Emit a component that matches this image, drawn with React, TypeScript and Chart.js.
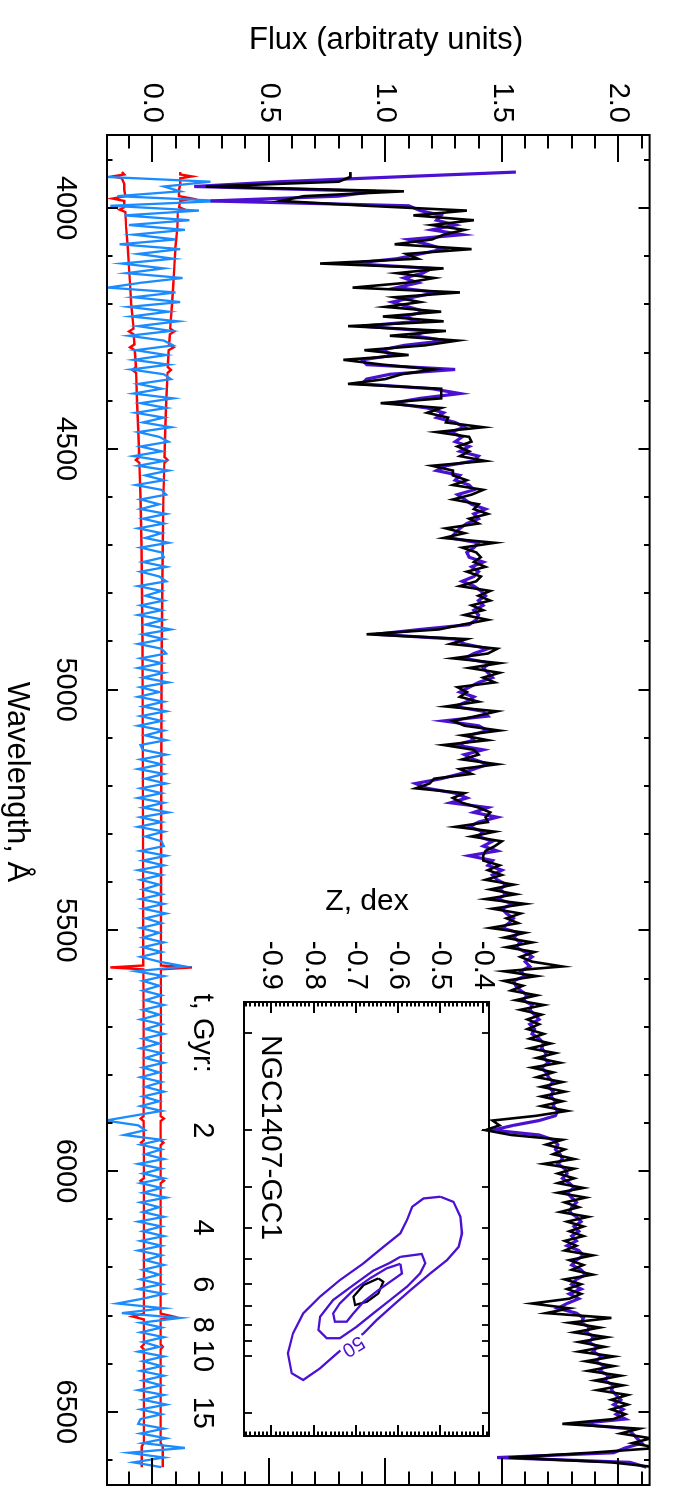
import React, { useEffect, useRef } from 'react';
import { Chart, registerables } from 'chart.js';

Chart.register(...registerables);

const FONT = '"Liberation Sans", Arial, Helvetica, sans-serif';
const PURPLE = '#4b10d2';
const BLUE = '#1a8cff';
const RED = '#ff0000';

// landscape drawing surface (rotated 90deg clockwise on the page)
const W = 1495;
const H = 679;

// ---- spectrum sampling grid (Angstrom) ----
const WAVE_START = 3925;
const WAVE_STEP = 10;

// model spectrum (purple)
const MODEL_FLUX = [
  1.56, 1.05, 0.55, 0.18, 0.96, 0.80, 0.25, 1.10, 1.15, 1.24, // 3925
  1.22, 1.30, 1.20, 1.33, 1.10, 1.18, 1.25, 1.15, 1.05, 0.85, // 4025
  1.20, 1.16, 1.08, 1.14, 1.05, 1.22, 1.12, 1.03, 1.10, 1.17, // 4125
  1.08, 1.14, 0.90, 1.18, 1.12, 1.26, 1.08, 0.98, 1.04, 0.90, // 4225
  0.92, 1.30, 1.02, 0.92, 0.90, 1.20, 1.32, 1.15, 1.03, 1.18, // 4325
  1.25, 1.22, 1.30, 1.34, 1.28, 1.33, 1.30, 1.36, 1.32, 1.40, // 4425
  1.38, 1.26, 1.22, 1.32, 1.30, 1.36, 1.38, 1.31, 1.34, 1.37, // 4525
  1.43, 1.38, 1.40, 1.35, 1.32, 1.30, 1.28, 1.40, 1.38, 1.35, // 4625
  1.36, 1.42, 1.37, 1.40, 1.38, 1.33, 1.38, 1.41, 1.43, 1.40, // 4725
  1.42, 1.38, 1.40, 1.39, 1.36, 1.15, 0.96, 1.30, 1.34, 1.44, // 4825
  1.38, 1.34, 1.45, 1.42, 1.44, 1.46, 1.40, 1.36, 1.32, 1.38, // 4925
  1.35, 1.30, 1.42, 1.44, 1.25, 1.40, 1.44, 1.36, 1.38, 1.30, // 5025
  1.42, 1.34, 1.38, 1.44, 1.38, 1.32, 1.24, 1.13, 1.18, 1.30, // 5125
  1.35, 1.28, 1.44, 1.38, 1.48, 1.40, 1.36, 1.42, 1.40, 1.46, // 5225
  1.42, 1.48, 1.36, 1.46, 1.44, 1.50, 1.46, 1.48, 1.52, 1.49, // 5325
  1.52, 1.48, 1.55, 1.50, 1.52, 1.55, 1.53, 1.50, 1.57, 1.55, // 5425
  1.58, 1.56, 1.60, 1.63, 1.60, 1.62, 1.58, 1.60, 1.55, 1.56, // 5525
  1.58, 1.61, 1.59, 1.63, 1.62, 1.64, 1.66, 1.62, 1.64, 1.63, // 5625
  1.66, 1.68, 1.67, 1.69, 1.68, 1.70, 1.67, 1.69, 1.70, 1.72, // 5725
  1.70, 1.72, 1.71, 1.73, 1.72, 1.74, 1.73, 1.66, 1.55, 1.46, // 5825
  1.66, 1.72, 1.74, 1.73, 1.75, 1.76, 1.74, 1.77, 1.78, 1.76, // 5925
  1.79, 1.81, 1.78, 1.80, 1.82, 1.80, 1.79, 1.82, 1.84, 1.81, // 6025
  1.83, 1.80, 1.82, 1.78, 1.83, 1.85, 1.82, 1.80, 1.84, 1.86, // 6125
  1.82, 1.80, 1.84, 1.79, 1.83, 1.78, 1.74, 1.82, 1.85, 1.84, // 6225
  1.88, 1.86, 1.90, 1.87, 1.91, 1.89, 1.93, 1.90, 1.94, 1.92, // 6325
  1.96, 1.94, 1.98, 1.97, 1.99, 2.01, 1.98, 2.02, 1.99, 2.03, // 6425
  1.82, 2.04, 2.06, 2.08, 2.10, 2.03, 1.98, 1.48, 2.05, 2.12, // 6525
];

// observed spectrum (black)
const OBS_FLUX = [
  0.85, 0.85, 0.80, 0.23, 1.08, 0.65, 0.55, 0.92, 1.35, 1.12,
  1.38, 1.20, 1.34, 1.25, 1.20, 1.04, 1.37, 1.09, 1.14, 0.72,
  1.25, 1.05, 1.21, 1.09, 0.86, 1.32, 1.04, 1.15, 1.00, 1.24,
  0.99, 1.25, 0.84, 1.26, 1.02, 1.31, 1.17, 0.91, 1.10, 0.82,
  0.99, 1.21, 1.07, 1.00, 0.84, 1.24, 1.24, 1.24, 0.98, 1.24,
  1.18, 1.27, 1.26, 1.42, 1.22, 1.36, 1.37, 1.31, 1.36, 1.32,
  1.43, 1.20, 1.29, 1.29, 1.35, 1.29, 1.42, 1.37, 1.29, 1.40,
  1.38, 1.44, 1.36, 1.40, 1.26, 1.34, 1.25, 1.47, 1.33, 1.39,
  1.41, 1.38, 1.43, 1.35, 1.41, 1.39, 1.32, 1.45, 1.40, 1.45,
  1.37, 1.42, 1.34, 1.44, 1.33, 1.23, 0.92, 1.35, 1.28, 1.48,
  1.44, 1.29, 1.49, 1.36, 1.49, 1.42, 1.47, 1.31, 1.35, 1.32,
  1.40, 1.26, 1.48, 1.39, 1.29, 1.34, 1.49, 1.33, 1.44, 1.25,
  1.38, 1.40, 1.33, 1.48, 1.32, 1.37, 1.21, 1.19, 1.13, 1.34,
  1.29, 1.33, 1.40, 1.45, 1.43, 1.44, 1.30, 1.47, 1.37, 1.50,
  1.47, 1.43, 1.42, 1.42, 1.49, 1.44, 1.50, 1.43, 1.55, 1.45,
  1.56, 1.43, 1.60, 1.46, 1.58, 1.52, 1.57, 1.45, 1.60, 1.51,
  1.63, 1.52, 1.64, 1.58, 1.63, 1.76, 1.51, 1.65, 1.51, 1.59,
  1.54, 1.65, 1.56, 1.68, 1.58, 1.67, 1.61, 1.66, 1.61, 1.68,
  1.62, 1.71, 1.62, 1.73, 1.65, 1.75, 1.63, 1.72, 1.65, 1.76,
  1.67, 1.77, 1.67, 1.76, 1.67, 1.78, 1.65, 1.46, 1.49, 1.43,
  1.54, 1.76, 1.69, 1.77, 1.72, 1.81, 1.68, 1.81, 1.74, 1.81,
  1.74, 1.85, 1.74, 1.86, 1.77, 1.83, 1.75, 1.87, 1.78, 1.85,
  1.79, 1.85, 1.77, 1.82, 1.77, 1.89, 1.79, 1.85, 1.80, 1.89,
  1.77, 1.84, 1.78, 1.84, 1.79, 1.63, 1.79, 1.69, 1.97, 1.79,
  1.92, 1.81, 1.95, 1.83, 1.94, 1.83, 1.98, 1.86, 1.98, 1.87,
  2.01, 1.90, 2.02, 1.91, 2.04, 1.97, 2.04, 1.97, 2.03, 1.98,
  1.76, 2.09, 2.01, 2.14, 2.06, 2.17, 1.88, 1.53, 1.97, 2.16,
];

// residuals (blue)
const RESIDUAL = [
  -0.71, -0.20, 0.25, 0.05, 0.12, -0.15, 0.30, -0.18, 0.20, -0.12,
  0.16, -0.10, 0.14, -0.08, 0.10, -0.14, 0.12, -0.06, 0.09, -0.13,
  0.05, -0.11, 0.13, -0.05, -0.19, 0.10, -0.08, 0.12, -0.10, 0.07,
  -0.09, 0.11, -0.06, 0.08, -0.10, 0.05, 0.09, -0.07, 0.06, -0.08,
  0.07, -0.09, 0.05, 0.08, -0.06, 0.04, -0.08, 0.09, -0.05, 0.06,
  -0.07, 0.05, -0.04, 0.08, -0.06, 0.03, 0.07, -0.05, 0.04, -0.08,
  0.05, -0.06, 0.07, -0.03, 0.05, -0.07, 0.04, 0.06, -0.05, 0.03,
  -0.05, 0.06, -0.04, 0.05, -0.06, 0.04, -0.03, 0.07, -0.05, 0.04,
  0.05, -0.04, 0.06, -0.05, 0.03, 0.06, -0.06, 0.04, -0.03, 0.05,
  -0.05, 0.04, -0.06, 0.05, -0.03, 0.08, -0.04, 0.05, -0.06, 0.04,
  0.06, -0.05, 0.04, -0.06, 0.05, -0.04, 0.07, -0.05, 0.03, -0.06,
  0.05, -0.04, 0.06, -0.05, 0.04, -0.06, 0.05, -0.03, 0.06, -0.05,
  -0.04, 0.06, -0.05, 0.04, -0.06, 0.05, -0.03, 0.06, -0.05, 0.04,
  -0.06, 0.05, -0.04, 0.07, -0.05, 0.04, -0.06, 0.05, -0.03, 0.04,
  0.05, -0.05, 0.06, -0.04, 0.05, -0.06, 0.04, -0.05, 0.03, -0.04,
  0.04, -0.05, 0.05, -0.04, 0.06, -0.03, 0.04, -0.05, 0.03, -0.04,
  0.05, -0.04, 0.04, -0.05, 0.03, 0.14, -0.07, 0.05, -0.04, 0.03,
  -0.04, 0.04, -0.03, 0.05, -0.04, 0.03, -0.05, 0.04, -0.03, 0.05,
  -0.04, 0.03, -0.05, 0.04, -0.03, 0.05, -0.04, 0.03, -0.05, 0.04,
  -0.03, 0.05, -0.04, 0.03, -0.05, 0.04, -0.08, -0.20, -0.06, -0.03,
  -0.12, 0.04, -0.05, 0.04, -0.03, 0.05, -0.06, 0.04, -0.04, 0.05,
  -0.05, 0.04, -0.04, 0.06, -0.05, 0.03, -0.04, 0.05, -0.06, 0.04,
  -0.04, 0.05, -0.05, 0.04, -0.06, 0.04, -0.03, 0.05, -0.04, 0.03,
  -0.05, 0.04, -0.06, 0.05, -0.04, -0.15, 0.05, -0.13, 0.12, -0.05,
  0.04, -0.05, 0.05, -0.04, 0.03, -0.06, 0.05, -0.04, 0.04, -0.05,
  0.05, -0.04, 0.04, -0.06, 0.05, -0.04, 0.06, -0.05, 0.04, -0.05,
  -0.06, 0.05, -0.05, 0.06, -0.04, 0.14, -0.10, 0.05, -0.08, 0.04,
];

// noise level (red), upper and lower envelope
const ERR_WAVE = [
  3925, 3930, 3934, 3938, 3950, 3962, 3975, 3980, 3985, 3998,
  4003, 4008, 4040, 4080, 4120, 4160, 4200, 4250, 4256, 4262,
  4283, 4289, 4295, 4330, 4336, 4342, 4400, 4460, 4517, 4523,
  4529, 4600, 4700, 4800, 4900, 5000, 5200, 5400, 5573, 5577,
  5581, 5700, 5886, 5891, 5896, 5936, 5941, 5946, 6015, 6020,
  6025, 6200, 6296, 6302, 6308, 6360, 6365, 6370, 6500, 6565,
  6572, 6615,
];
const ERR_UP = [
  0.12, 0.12, 0.17, 0.12, 0.12, 0.115, 0.115, 0.17, 0.12, 0.115,
  0.14, 0.11, 0.108, 0.10, 0.095, 0.09, 0.085, 0.077, 0.095, 0.076,
  0.072, 0.092, 0.071, 0.067, 0.08, 0.066, 0.06, 0.056, 0.053, 0.066,
  0.052, 0.048, 0.045, 0.043, 0.041, 0.040, 0.039, 0.038, 0.037, 0.17,
  0.037, 0.037, 0.036, 0.05, 0.036, 0.036, 0.048, 0.036, 0.036, 0.05,
  0.036, 0.036, 0.036, 0.09, 0.036, 0.036, 0.046, 0.036, 0.036, 0.036,
  0.045, 0.045,
];
const ERR_LO = [
  -0.13, -0.12, -0.17, -0.13, -0.12, -0.12, -0.115, -0.17, -0.12, -0.12,
  -0.14, -0.115, -0.112, -0.105, -0.10, -0.095, -0.09, -0.08, -0.10, -0.08,
  -0.076, -0.095, -0.075, -0.07, -0.085, -0.069, -0.065, -0.06, -0.056, -0.07,
  -0.055, -0.05, -0.046, -0.044, -0.042, -0.041, -0.040, -0.039, -0.038, -0.18,
  -0.038, -0.037, -0.037, -0.05, -0.037, -0.036, -0.048, -0.036, -0.036, -0.05,
  -0.036, -0.036, -0.036, -0.085, -0.036, -0.036, -0.046, -0.036, -0.036, -0.036,
  -0.045, -0.045,
];

// axes
const WAVE_MIN = 3848;
const WAVE_MAX = 6652;
const FLUX_MIN = -0.194;
const FLUX_MAX = 2.134;
const WAVE_TICKS = [4000, 4500, 5000, 5500, 6000, 6500];
const FLUX_TICKS = [0, 0.5, 1, 1.5, 2];

// inset: age–metallicity confidence contours
const AGE_MIN = 0.8;
const AGE_MAX = 17.7;
const Z_MIN = -0.965;
const Z_MAX = -0.385;
const AGE_TICKS = [1, 2, 4, 6, 8, 10, 15];
const AGE_TICK_LABELS = ['t, Gyr:', '2', '4', '6', '8', '10', '15'];
const AGE_TICK_MARKS = [1, 2, 3, 4, 5, 6, 7, 8, 9, 10, 15];
const Z_TICKS = [-0.9, -0.8, -0.7, -0.6, -0.5, -0.4];

const C1_AGE = [3.21, 3.33, 3.70, 4.17, 4.59, 5.04, 5.55, 6.25, 6.95, 7.74, 8.51, 9.25, 10.05, 10.92, 11.87, 11.31, 9.81, 8.51, 7.38, 6.55, 5.82, 5.16, 4.59, 4.17, 3.79, 3.45, 3.25, 3.21];
const C1_Z = [-0.500, -0.469, -0.453, -0.449, -0.457, -0.484, -0.524, -0.571, -0.611, -0.651, -0.682, -0.722, -0.754, -0.785, -0.825, -0.852, -0.861, -0.849, -0.825, -0.785, -0.738, -0.682, -0.635, -0.595, -0.579, -0.567, -0.540, -0.500];
const C2_AGE = [4.93, 4.83, 5.16, 5.55, 6.10, 6.71, 7.38, 8.11, 8.81, 8.81, 8.31, 7.56, 6.71, 6.03, 5.44, 5.14, 4.93];
const C2_Z = [-0.595, -0.544, -0.536, -0.548, -0.579, -0.619, -0.659, -0.698, -0.738, -0.769, -0.789, -0.785, -0.754, -0.706, -0.659, -0.619, -0.595];
const C3_AGE = [5.18, 5.55, 5.89, 6.25, 6.79, 7.38, 7.83, 7.83, 7.38, 6.87, 6.25, 5.75, 5.35, 5.18];
const C3_Z = [-0.595, -0.591, -0.619, -0.647, -0.682, -0.706, -0.722, -0.750, -0.754, -0.738, -0.706, -0.667, -0.627, -0.595];
const C4_AGE = [5.75, 5.89, 6.40, 6.79, 6.95, 6.55, 6.03, 5.75];
const C4_Z = [-0.647, -0.635, -0.647, -0.674, -0.702, -0.706, -0.682, -0.647];
const CONTOUR_LABEL = '50';
const CONTOUR_LABEL_AGE = 9.36;
const CONTOUR_LABEL_Z = -0.706;
const OBJECT_NAME = 'NGC1407-GC1';

// ---------------------------------------------------------------

const pts = (xs: number[], ys: number[]) => xs.map((x, i) => ({ x, y: ys[i] }));
const spec = (ys: number[]) => ys.map((y, i) => ({ x: WAVE_START + i * WAVE_STEP, y }));

const lineDs = (data: any[], color: string, width: number) => ({
  data,
  borderColor: color,
  backgroundColor: color,
  borderWidth: width,
  showLine: true,
  pointRadius: 0,
  pointHoverRadius: 0,
  tension: 0,
  fill: false,
  clip: 0,
});

const mainDecor = {
  id: 'mainDecor',
  afterDatasetsDraw(chart: any) {
    const { ctx, chartArea: a, scales } = chart;
    const x = scales.x;
    const y = scales.y;
    ctx.save();
    ctx.strokeStyle = '#000';
    ctx.lineWidth = 2;
    ctx.lineCap = 'butt';
    ctx.beginPath();
    for (let w = 3900; w <= 6600; w += 100) {
      const u = Math.round(x.getPixelForValue(w));
      const len = w % 500 === 0 ? 11 : 5.5;
      ctx.moveTo(u, a.bottom);
      ctx.lineTo(u, a.bottom - len);
      ctx.moveTo(u, a.top);
      ctx.lineTo(u, a.top + len);
    }
    for (let k = -1; k <= 21; k++) {
      const v = Math.round(y.getPixelForValue(k / 10));
      const len = k % 5 === 0 ? 27 : 13.5;
      ctx.moveTo(a.left, v);
      ctx.lineTo(a.left + len, v);
      ctx.moveTo(a.right, v);
      ctx.lineTo(a.right - len, v);
    }
    ctx.stroke();
    ctx.lineWidth = 2;
    ctx.strokeRect(a.left, a.top, a.right - a.left, a.bottom - a.top);

    ctx.fillStyle = '#000';
    ctx.font = `31px ${FONT}`;
    ctx.textAlign = 'center';
    ctx.textBaseline = 'middle';
    ctx.fillText('Wavelength, \u00c5', 782, 662);
    ctx.translate(40, 293);
    ctx.rotate(-Math.PI / 2);
    ctx.fillText('Flux (arbitraty units)', 0, 0);
    ctx.restore();
  },
};

const insetDecor = {
  id: 'insetDecor',
  afterDatasetsDraw(chart: any) {
    const { ctx, chartArea: a, scales } = chart;
    const x = scales.x;
    const y = scales.y;
    ctx.save();
    // contour label
    const lx = x.getPixelForValue(CONTOUR_LABEL_AGE);
    const ly = y.getPixelForValue(CONTOUR_LABEL_Z);
    ctx.translate(lx, ly);
    ctx.rotate((58 * Math.PI) / 180);
    ctx.font = `20px ${FONT}`;
    ctx.fillStyle = '#fff';
    ctx.fillRect(-13, -9, 26, 18);
    ctx.fillStyle = PURPLE;
    ctx.textAlign = 'center';
    ctx.textBaseline = 'middle';
    ctx.fillText(CONTOUR_LABEL, 0, 1);
    ctx.restore();

    ctx.save();
    ctx.strokeStyle = '#000';
    ctx.lineWidth = 1.8;
    ctx.beginPath();
    AGE_TICK_MARKS.forEach((t) => {
      const u = Math.round(x.getPixelForValue(t));
      ctx.moveTo(u, a.bottom);
      ctx.lineTo(u, a.bottom - 8);
      ctx.moveTo(u, a.top);
      ctx.lineTo(u, a.top + 7);
    });
    for (let k = -96; k <= -39; k++) {
      const v = Math.round(y.getPixelForValue(k / 100));
      const len = k % 10 === 0 ? 11 : 4.5;
      ctx.moveTo(a.left, v);
      ctx.lineTo(a.left + len, v);
      ctx.moveTo(a.right, v);
      ctx.lineTo(a.right - len, v);
    }
    ctx.stroke();
    ctx.lineWidth = 2;
    ctx.strokeRect(a.left, a.top, a.right - a.left, a.bottom - a.top);

    ctx.fillStyle = '#000';
    ctx.font = `30px ${FONT}`;
    ctx.textAlign = 'left';
    ctx.textBaseline = 'alphabetic';
    ctx.fillText(OBJECT_NAME, 1035, 417);
    ctx.textAlign = 'center';
    ctx.textBaseline = 'middle';
    ctx.translate(902, 312);
    ctx.rotate(-Math.PI / 2);
    ctx.fillText('Z, dex', 0, 0);
    ctx.restore();
  },
};

const tickFont = { family: FONT, size: 29 };

function mainConfig(): any {
  return {
    type: 'scatter',
    data: {
      datasets: [
        lineDs(spec(OBS_FLUX), '#000000', 2.6),
        lineDs(spec(MODEL_FLUX), PURPLE, 3.2),
        lineDs(spec(RESIDUAL), BLUE, 2.3),
        lineDs(pts(ERR_WAVE, ERR_UP), RED, 2.4),
        lineDs(pts(ERR_WAVE, ERR_LO), RED, 2.4),
      ],
    },
    options: {
      responsive: false,
      animation: false,
      devicePixelRatio: 1,
      events: [],
      layout: { padding: { left: 0, top: 17, right: 10, bottom: 0 } },
      plugins: { legend: { display: false }, tooltip: { enabled: false } },
      scales: {
        x: {
          type: 'linear',
          min: WAVE_MIN,
          max: WAVE_MAX,
          grid: { display: false, drawTicks: false },
          border: { display: false },
          ticks: {
            color: '#000',
            font: tickFont,
            padding: 25,
            autoSkip: false,
            maxRotation: 0,
            minRotation: 0,
            callback: (v: number) => String(v),
          },
          afterBuildTicks: (s: any) => {
            s.ticks = WAVE_TICKS.map((v) => ({ value: v }));
          },
          afterFit: (s: any) => {
            s.height = 107;
          },
        },
        y: {
          type: 'linear',
          min: FLUX_MIN,
          max: FLUX_MAX,
          grid: { display: false, drawTicks: false },
          border: { display: false },
          ticks: {
            color: '#000',
            font: tickFont,
            padding: 12,
            autoSkip: false,
            callback: (v: number) => Number(v).toFixed(1),
          },
          afterBuildTicks: (s: any) => {
            s.ticks = FLUX_TICKS.map((v) => ({ value: v }));
          },
          afterFit: (s: any) => {
            s.width = 135;
          },
        },
      },
    },
    plugins: [mainDecor],
  };
}

function insetConfig(): any {
  return {
    type: 'scatter',
    data: {
      datasets: [
        lineDs(pts(C1_AGE, C1_Z), PURPLE, 2.3),
        lineDs(pts(C2_AGE, C2_Z), PURPLE, 2.3),
        lineDs(pts(C3_AGE, C3_Z), PURPLE, 2.3),
        lineDs(pts(C4_AGE, C4_Z), '#000000', 2.3),
      ],
    },
    options: {
      responsive: false,
      animation: false,
      devicePixelRatio: 1,
      events: [],
      layout: { padding: { left: 942, top: 190, right: 59, bottom: 184 } },
      plugins: { legend: { display: false }, tooltip: { enabled: false } },
      scales: {
        x: {
          type: 'logarithmic',
          min: AGE_MIN,
          max: AGE_MAX,
          grid: { display: false, drawTicks: false },
          border: { display: false },
          ticks: {
            color: '#000',
            font: tickFont,
            padding: 25,
            autoSkip: false,
            maxRotation: 0,
            minRotation: 0,
            callback: (v: number) => {
              const i = AGE_TICKS.indexOf(Number(v));
              return i >= 0 ? AGE_TICK_LABELS[i] : '';
            },
          },
          afterBuildTicks: (s: any) => {
            s.ticks = AGE_TICKS.map((v) => ({ value: v }));
          },
          afterFit: (s: any) => {
            s.height = 60;
          },
        },
        y: {
          type: 'linear',
          min: Z_MIN,
          max: Z_MAX,
          grid: { display: false, drawTicks: false },
          border: { display: false },
          ticks: {
            color: '#000',
            font: tickFont,
            padding: 12,
            autoSkip: false,
            callback: (v: number) => Number(v).toFixed(1),
          },
          afterBuildTicks: (s: any) => {
            s.ticks = Z_TICKS.map((v) => ({ value: v }));
          },
          afterFit: (s: any) => {
            s.width = 60;
          },
        },
      },
    },
    plugins: [insetDecor],
  };
}

export default function App() {
  const mainRef = useRef<HTMLCanvasElement>(null);
  const insetRef = useRef<HTMLCanvasElement>(null);

  useEffect(() => {
    const c1 = new Chart(mainRef.current as HTMLCanvasElement, mainConfig());
    const c2 = new Chart(insetRef.current as HTMLCanvasElement, insetConfig());
    return () => {
      c1.destroy();
      c2.destroy();
    };
  }, []);

  const canvasStyle: React.CSSProperties = {
    position: 'absolute',
    left: 0,
    top: 0,
    width: W,
    height: H,
    transformOrigin: '0 0',
    transform: `translate(${H}px, 0px) rotate(90deg)`,
  };

  return (
    <div
      style={{
        position: 'absolute',
        left: 0,
        top: 0,
        width: H,
        height: W,
        overflow: 'hidden',
        background: '#ffffff',
      }}
    >
      <canvas ref={mainRef} width={W} height={H} style={canvasStyle} />
      <canvas ref={insetRef} width={W} height={H} style={canvasStyle} />
    </div>
  );
}
